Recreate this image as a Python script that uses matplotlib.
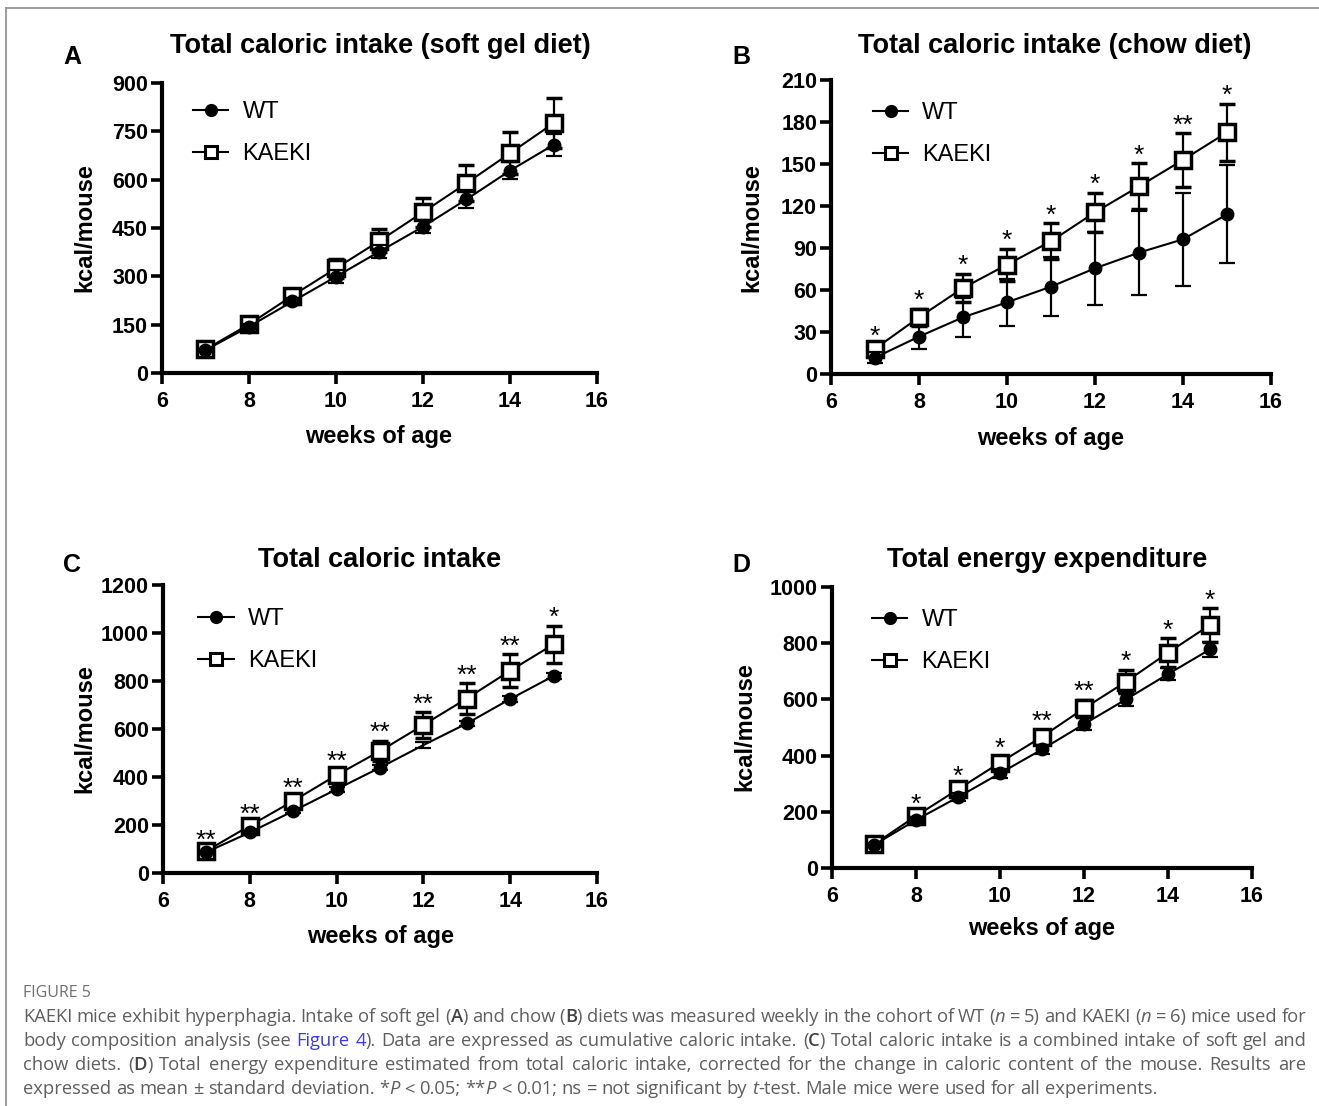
import matplotlib
matplotlib.use('Agg')
import matplotlib.pyplot as plt
from matplotlib.lines import Line2D

# weeks of age
weeks = [7, 8, 9, 10, 11, 12, 13, 14, 15]

# A - soft gel diet (kcal/mouse, mean and SD)
a_wt = [71, 144, 222, 299, 377, 454, 539, 628, 708]
a_wt_sd = [5, 8, 10, 20, 21, 20, 28, 26, 33]
a_ko = [73, 151, 240, 325, 410, 499, 589, 682, 775]
a_ko_sd = [5, 8, 14, 29, 36, 45, 55, 65, 78]

# B - chow diet
b_wt = [11.7, 26.7, 40.5, 51.2, 62.4, 75.5, 86.7, 96.2, 114]
b_wt_sd = [4, 8.5, 14, 17, 21, 26, 30, 33, 35]
b_ko = [18, 40.5, 61.4, 78.1, 94.8, 115.5, 134, 152.9, 172.6]
b_ko_sd = [3, 6, 10, 11.5, 13, 14, 16.5, 19, 20.5]
b_sig = ['*', '*', '*', '*', '*', '*', '*', '**', '*']

# C - total caloric intake
c_wt = [87, 169, 258, 349, 439, 533, 623, 725, 821]
c_wt_sd = [6, 8, 9, 10, 10, 12, 12, 12, 14]
c_ko = [92, 197, 300, 408, 508, 617, 727, 843, 953]
c_ko_sd = [10, 14, 18, 22, 42, 53, 63, 69, 76]
c_sig = ['**', '**', '**', '**', '**', '**', '**', '**', '*']

# D - total energy expenditure
d_wt = [82, 171, 252, 337, 422, 512, 600, 690, 778]
d_wt_sd = [6, 10, 14, 17, 15, 21, 23, 21, 26]
d_ko = [84, 185, 280, 375, 467, 568, 663, 766, 865]
d_ko_sd = [6, 12, 18, 22, 25, 30, 42, 51, 60]
d_sig = ['', '*', '*', '*', '**', '**', '*', '*', '*']

W, H = 1319, 1106
plt.rcParams['font.family'] = ['Liberation Sans', 'DejaVu Sans']
fig = plt.figure(figsize=(W / 100, H / 100), dpi=100)


def px(x, y):
    return x / W, 1 - y / H


def box(l, t, r, b):
    return [l / W, 1 - b / H, (r - l) / W, (b - t) / H]


def panel(rect, wt, wt_sd, ko, ko_sd, sig, ymax, ystep, leg_xy, skip_wt=None):
    ax = fig.add_axes(rect)
    ax.errorbar(weeks, ko, yerr=ko_sd, fmt='-s', color='black', lw=1.5,
                ms=11.5, mfc='white', mec='black', mew=2.5, capsize=6,
                capthick=1.6, elinewidth=1.6, zorder=3, clip_on=False)
    cont = ax.errorbar(weeks, wt, yerr=wt_sd, fmt='-o', color='black', lw=1.5,
                       ms=9, capsize=6, capthick=1.6, elinewidth=1.6,
                       zorder=4, clip_on=False)
    if skip_wt is not None:
        cont[0].set_markevery([i for i in range(len(weeks)) if i != skip_wt])
    if sig is not None:
        for x, y, e, s in zip(weeks, ko, ko_sd, sig):
            if s:
                ax.annotate(s, (x, y + e), xytext=(0, 0.5), textcoords='offset points',
                            ha='center', va='baseline', fontsize=19)
    ax.set_xlim(6, 16)
    ax.set_ylim(0, ymax)
    ax.set_xticks(range(6, 17, 2))
    ax.set_yticks(range(0, ymax + 1, ystep))
    for s in ['top', 'right']:
        ax.spines[s].set_visible(False)
    for s in ['left', 'bottom']:
        ax.spines[s].set_linewidth(3)
    ax.tick_params(length=8, width=2.6, labelsize=15.5)
    ax.tick_params(axis='x', pad=5)
    ax.tick_params(axis='y', pad=2)
    for lab in ax.get_xticklabels() + ax.get_yticklabels():
        lab.set_fontweight('bold')
    handles = [Line2D([], [], color='black', lw=1.5, marker='o', ms=8.5),
               Line2D([], [], color='black', lw=1.5, marker='s', ms=9,
                      mfc='white', mec='black', mew=2.2)]
    ax.legend(handles, ['WT', 'KAEKI'], loc='upper left', bbox_to_anchor=leg_xy,
              frameon=False, fontsize=17, handlelength=1.5, handletextpad=0.6,
              labelspacing=0.85, borderpad=0, borderaxespad=0)
    return ax


panel(box(162, 83, 597, 373), a_wt, a_wt_sd, a_ko, a_ko_sd, None, 900, 150, (0.071, 0.938))
panel(box(831, 80, 1271, 374), b_wt, b_wt_sd, b_ko, b_ko_sd, b_sig, 210, 30, (0.095, 0.925))
panel(box(163, 585, 597, 873), c_wt, c_wt_sd, c_ko, c_ko_sd, c_sig, 1200, 200, (0.081, 0.92),
      skip_wt=5)
panel(box(832, 587, 1252, 868), d_wt, d_wt_sd, d_ko, d_ko_sd, d_sig, 1000, 200, (0.095, 0.922))

# titles, panel letters, axis labels
texts = [
    ('A', 72, 57, 18, 0), ('B', 741, 57, 18, 0), ('C', 72, 565, 18, 0), ('D', 741, 565, 18, 0),
    ('Total caloric intake (soft gel diet)', 380, 46, 19.5, 0),
    ('Total caloric intake (chow diet)', 1055, 46, 19.5, 0),
    ('Total caloric intake', 380, 560, 19.5, 0),
    ('Total energy expenditure', 1047, 560, 19.5, 0),
    ('weeks of age', 379, 437, 17, 0), ('weeks of age', 1051, 438, 17, 0),
    ('weeks of age', 381, 937, 17, 0), ('weeks of age', 1042, 929, 17, 0),
    ('kcal/mouse', 85, 228, 17, 90), ('kcal/mouse', 752, 228, 17, 90),
    ('kcal/mouse', 85, 729, 17, 90), ('kcal/mouse', 745, 727, 17, 90),
]
for s, x, y, fs, rot in texts:
    fig.text(*px(x, y), s, ha='center', va='center', fontsize=fs,
             fontweight='bold', rotation=rot)

# frame lines
fig.add_artist(Line2D([6 / W, 1], [1 - 8 / H, 1 - 8 / H], color='#8c8c8c', lw=1.2))
fig.add_artist(Line2D([6 / W, 6 / W], [0, 1 - 8 / H], color='#8c8c8c', lw=1.2))

# caption
cap_font = ['Open Sans', 'DejaVu Sans']
cap_size = 13.2
grey = '#5f5f5f'
blue = '#3c3ce6'
fig.text(*px(23, 993), 'FIGURE 5', ha='left', va='center', fontsize=11.5,
         color='#707070', family=cap_font)

caption = [
    [('KAEKI mice exhibit hyperphagia. Intake of soft gel (', 'n'), ('A', 'b'),
     (') and chow (', 'n'), ('B', 'b'),
     (') diets was measured weekly in the cohort of WT (', 'n'), ('n', 'i'),
     (' = 5) and KAEKI (', 'n'), ('n', 'i'), (' = 6) mice used for', 'n')],
    [('body composition analysis (see ', 'n'), ('Figure 4', 'l'),
     ('). Data are expressed as cumulative caloric intake. (', 'n'), ('C', 'b'),
     (') Total caloric intake is a combined intake of soft gel and', 'n')],
    [('chow diets. (', 'n'), ('D', 'b'),
     (') Total energy expenditure estimated from total caloric intake, corrected '
      'for the change in caloric content of the mouse. Results are', 'n')],
    [('expressed as mean \u00b1 standard deviation. *', 'n'), ('P', 'i'),
     (' < 0.05; **', 'n'), ('P', 'i'),
     (' < 0.01; ns = not significant by ', 'n'), ('t', 'i'),
     ('-test. Male mice were used for all experiments.', 'n')],
]
styles = {'n': dict(color=grey), 'b': dict(color='#444444', fontweight='semibold'),
          'i': dict(color=grey, style='italic'), 'l': dict(color=blue)}

renderer = fig.canvas.get_renderer()


def seg_width(s, st):
    t = fig.text(0, 0, s, fontsize=cap_size, family=cap_font, **styles[st])
    w = t.get_window_extent(renderer).width
    t.remove()
    return w


x0, x1 = 23, 1306
space_w = seg_width('a a', 'n') - seg_width('aa', 'n')
for li, line in enumerate(caption):
    words = [[]]
    for s, st in line:
        parts = s.split(' ')
        for k, p in enumerate(parts):
            if k > 0:
                words.append([])
            if p:
                words[-1].append((p, st))
    words = [w for w in words if w]
    widths = [[seg_width(p, st) for p, st in w] for w in words]
    total = sum(sum(w) for w in widths)
    if li < len(caption) - 1:
        gap = (x1 - x0 - total) / (len(words) - 1)
    else:
        gap = space_w
    y = 1017 + 24 * li
    x = x0
    for w, ws in zip(words, widths):
        for (p, st), wd in zip(w, ws):
            fig.text(*px(x, y), p, ha='left', va='center', fontsize=cap_size,
                     family=cap_font, **styles[st])
            x += wd
        x += gap

fig.savefig('out.png', dpi=100)
